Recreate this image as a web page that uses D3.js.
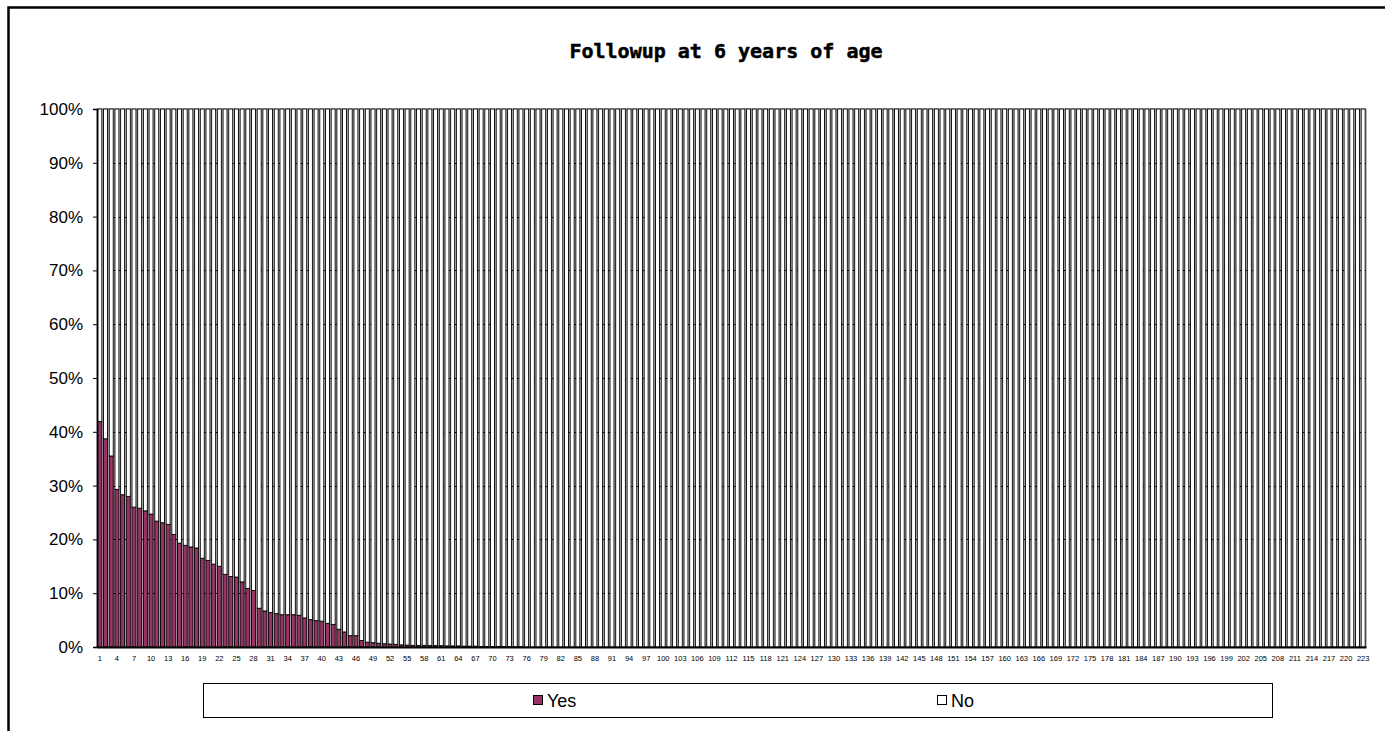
<!DOCTYPE html>
<html>
<head>
<meta charset="utf-8">
<script src="https://cdn.jsdelivr.net/npm/d3@7"></script>
<style>
  html, body { margin: 0; padding: 0; background: #fff; }
  svg { display: block; }
</style>
</head>
<body>
<svg id="chart" width="1385" height="731"></svg>
<script>
const chartTitle = "Followup at 6 years of age";
const seriesNames = ["Yes", "No"];
const seriesColors = ["#993366", "#ffffff"];
const yTickLabels = ["0%", "10%", "20%", "30%", "40%", "50%", "60%", "70%", "80%", "90%", "100%"];
const categories = d3.range(1, 224).map(String);

const yesValues = [
  41.9, 38.7, 35.5, 29.3, 28.3, 28.0, 26.0, 25.8, 25.3, 24.7,
  23.4, 23.1, 22.8, 20.9, 19.3, 18.9, 18.6, 18.4, 16.5, 16.1,
  15.4, 15.0, 13.5, 13.1, 13.0, 12.1, 10.9, 10.5, 7.2, 6.7,
  6.4, 6.2, 6.0, 6.0, 6.0, 5.9, 5.4, 5.1, 4.9, 4.8,
  4.4, 4.2, 3.3, 2.8, 2.1, 2.1, 1.2, 0.9, 0.8, 0.7,
  0.6, 0.55, 0.5, 0.4, 0.35, 0.3, 0.3, 0.3, 0.25, 0.25,
  0.25, 0.2, 0.2, 0.2, 0.15, 0.15, 0.15, 0.1, 0.1, 0.1,
  0.1, 0.1, 0.05, 0.05, 0.05, 0, 0, 0, 0, 0,
  0, 0, 0, 0, 0, 0, 0, 0, 0, 0,
  0, 0, 0, 0, 0, 0, 0, 0, 0, 0,
  0, 0, 0, 0, 0, 0, 0, 0, 0, 0,
  0, 0, 0, 0, 0, 0, 0, 0, 0, 0,
  0, 0, 0, 0, 0, 0, 0, 0, 0, 0,
  0, 0, 0, 0, 0, 0, 0, 0, 0, 0,
  0, 0, 0, 0, 0, 0, 0, 0, 0, 0,
  0, 0, 0, 0, 0, 0, 0, 0, 0, 0,
  0, 0, 0, 0, 0, 0, 0, 0, 0, 0,
  0, 0, 0, 0, 0, 0, 0, 0, 0, 0,
  0, 0, 0, 0, 0, 0, 0, 0, 0, 0,
  0, 0, 0, 0, 0, 0, 0, 0, 0, 0,
  0, 0, 0, 0, 0, 0, 0, 0, 0, 0,
  0, 0, 0, 0, 0, 0, 0, 0, 0, 0,
  0, 0, 0
];

const noValues = [
  58.1, 61.3, 64.5, 70.7, 71.7, 72.0, 74.0, 74.2, 74.7, 75.3,
  76.6, 76.9, 77.2, 79.1, 80.7, 81.1, 81.4, 81.6, 83.5, 83.9,
  84.6, 85.0, 86.5, 86.9, 87.0, 87.9, 89.1, 89.5, 92.8, 93.3,
  93.6, 93.8, 94.0, 94.0, 94.0, 94.1, 94.6, 94.9, 95.1, 95.2,
  95.6, 95.8, 96.7, 97.2, 97.9, 97.9, 98.8, 99.1, 99.2, 99.3,
  99.4, 99.45, 99.5, 99.6, 99.65, 99.7, 99.7, 99.7, 99.75, 99.75,
  99.75, 99.8, 99.8, 99.8, 99.85, 99.85, 99.85, 99.9, 99.9, 99.9,
  99.9, 99.9, 99.95, 99.95, 99.95, 100, 100, 100, 100, 100,
  100, 100, 100, 100, 100, 100, 100, 100, 100, 100,
  100, 100, 100, 100, 100, 100, 100, 100, 100, 100,
  100, 100, 100, 100, 100, 100, 100, 100, 100, 100,
  100, 100, 100, 100, 100, 100, 100, 100, 100, 100,
  100, 100, 100, 100, 100, 100, 100, 100, 100, 100,
  100, 100, 100, 100, 100, 100, 100, 100, 100, 100,
  100, 100, 100, 100, 100, 100, 100, 100, 100, 100,
  100, 100, 100, 100, 100, 100, 100, 100, 100, 100,
  100, 100, 100, 100, 100, 100, 100, 100, 100, 100,
  100, 100, 100, 100, 100, 100, 100, 100, 100, 100,
  100, 100, 100, 100, 100, 100, 100, 100, 100, 100,
  100, 100, 100, 100, 100, 100, 100, 100, 100, 100,
  100, 100, 100, 100, 100, 100, 100, 100, 100, 100,
  100, 100, 100, 100, 100, 100, 100, 100, 100, 100,
  100, 100, 100
];

// ---- layout ----
const svg = d3.select("#chart");
const plot = { left: 97, right: 1366, top: 109, bottom: 647 };

// chart area border
svg.append("rect")
  .attr("x", 8.5).attr("y", 7.5)
  .attr("width", 1400).attr("height", 760)
  .attr("fill", "#fff").attr("stroke", "#000").attr("stroke-width", 2.5);

// title
svg.append("text")
  .attr("x", 726).attr("y", 58)
  .attr("text-anchor", "middle")
  .attr("font-family", "'DejaVu Sans Mono', monospace")
  .attr("font-weight", "bold")
  .attr("font-size", 20)
  .attr("fill", "#000")
  .attr("stroke", "#000").attr("stroke-width", 0.5)
  .text(chartTitle);

const table = categories.map((c, i) => ({ cat: c, Yes: yesValues[i], No: noValues[i] }));
const stack = d3.stack().keys(seriesNames).offset(d3.stackOffsetExpand);
const layers = stack(table);

const x = d3.scaleBand().domain(categories)
  .range([plot.left, plot.right]).paddingInner(0.3).paddingOuter(0.15);
const y = d3.scaleLinear().domain([0, 1]).range([plot.bottom, plot.top]);

// plot background
svg.append("rect")
  .attr("x", plot.left).attr("y", plot.top)
  .attr("width", plot.right - plot.left).attr("height", plot.bottom - plot.top)
  .attr("fill", "#c0c0c0").attr("stroke", "#808080").attr("stroke-width", 1);

// gridlines
const gridVals = d3.range(1, 10).map(d => d / 10);
svg.append("g").selectAll("line").data(gridVals).join("line")
  .attr("x1", plot.left).attr("x2", plot.right)
  .attr("y1", d => Math.round(y(d)) + 0.5).attr("y2", d => Math.round(y(d)) + 0.5)
  .attr("stroke", "#000").attr("stroke-width", 1).attr("stroke-dasharray", "4,3");

// bars
svg.append("g").selectAll("g").data(layers).join("g")
  .attr("fill", (d, i) => seriesColors[i])
  .selectAll("rect").data(d => d).join("rect")
  .attr("x", d => x(d.data.cat))
  .attr("width", x.bandwidth())
  .attr("y", d => y(d[1]))
  .attr("height", d => Math.max(0, y(d[0]) - y(d[1])))
  .attr("stroke", "#000").attr("stroke-width", 0.9);

// y axis
const yAxis = d3.axisLeft(y)
  .tickValues(d3.range(0, 11).map(d => d / 10))
  .tickFormat((d, i) => yTickLabels[i])
  .tickSize(4).tickPadding(10);
const gy = svg.append("g").attr("transform", `translate(${plot.left},0)`).call(yAxis);
gy.select(".domain").attr("stroke", "#000").attr("stroke-width", 1.5);
gy.selectAll("text")
  .attr("font-family", "'Liberation Sans', Arial, sans-serif")
  .attr("font-size", 17).attr("fill", "#000");

// x axis
const xAxis = d3.axisBottom(x)
  .tickValues(categories.filter((c, i) => i % 3 === 0))
  .tickSize(0).tickPadding(9);
const gx = svg.append("g").attr("transform", `translate(0,${plot.bottom})`).call(xAxis);
gx.select(".domain").attr("stroke", "#000").attr("stroke-width", 2);
gx.selectAll("text")
  .attr("font-family", "'Liberation Sans', Arial, sans-serif")
  .attr("font-size", 7.5).attr("fill", "#000");

// legend
const legend = svg.append("g");
legend.append("rect")
  .attr("x", 203.5).attr("y", 683.5).attr("width", 1069).attr("height", 34)
  .attr("fill", "#fff").attr("stroke", "#000").attr("stroke-width", 1);
const legendX = [533, 937];
seriesNames.forEach((name, i) => {
  legend.append("rect")
    .attr("x", legendX[i] + 0.5).attr("y", 695.5).attr("width", 9).attr("height", 9)
    .attr("fill", seriesColors[i]).attr("stroke", "#000").attr("stroke-width", 1);
  legend.append("text")
    .attr("x", legendX[i] + 14).attr("y", 707)
    .attr("font-family", "'Liberation Sans', Arial, sans-serif")
    .attr("font-size", 18).attr("fill", "#000")
    .text(name);
});
</script>
</body>
</html>
